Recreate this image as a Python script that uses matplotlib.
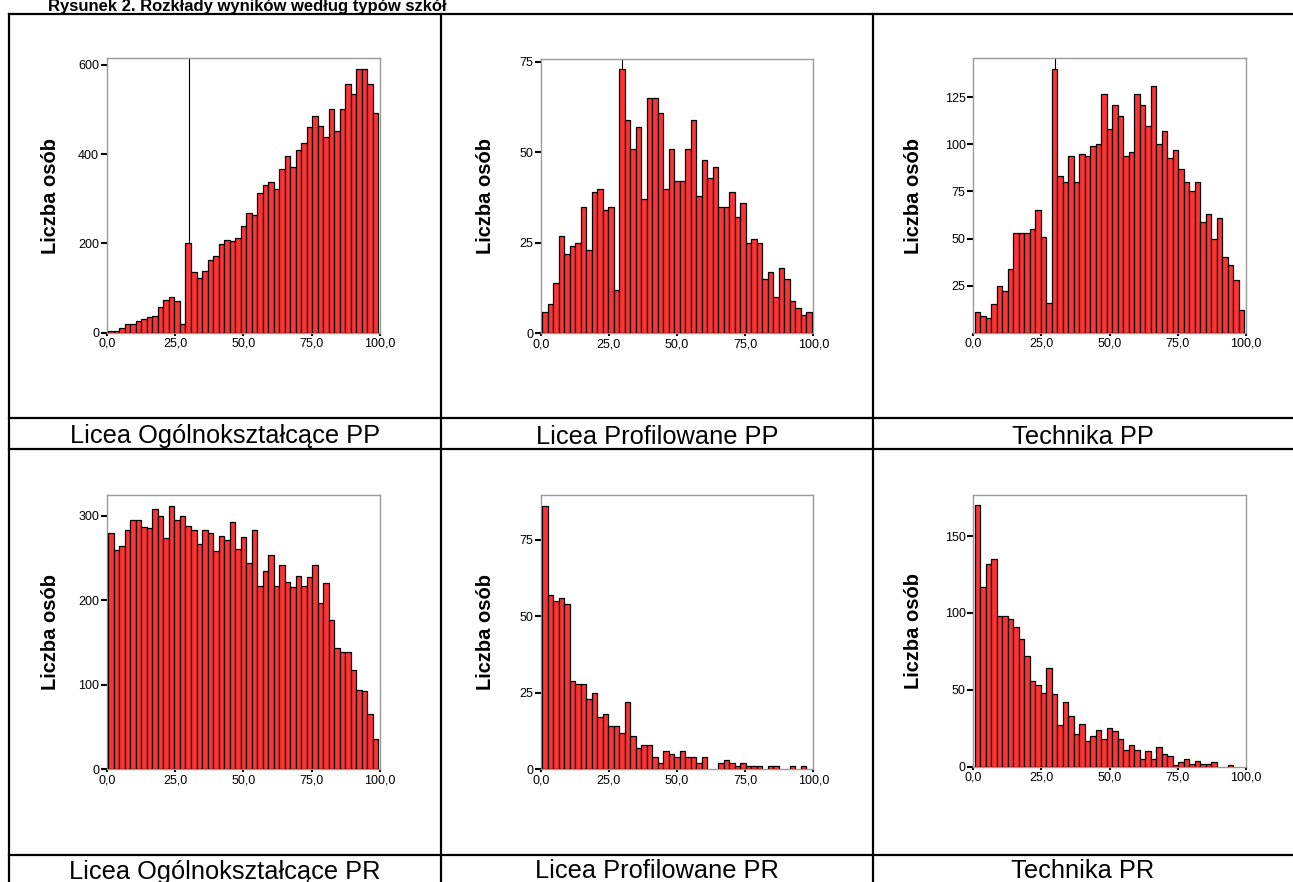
import numpy as np
import matplotlib
matplotlib.use('Agg')
import matplotlib.pyplot as plt
from matplotlib.lines import Line2D

plt.rcParams['font.family'] = ['Liberation Sans', 'DejaVu Sans']

# ---------------- data (counts per score interval) ----------------
lo_pp = [3, 3, 10, 19, 19, 26, 30, 36, 38, 58, 73, 80, 71, 19, 200, 135, 122, 138, 163, 172,
         198, 207, 205, 213, 240, 268, 263, 313, 332, 338, 322, 368, 397, 371, 409, 425, 460,
         486, 464, 438, 501, 451, 501, 557, 536, 591, 591, 557, 493]
lp_pp = [6, 8, 14, 27, 22, 24, 25, 35, 23, 39, 40, 34, 35, 12, 73, 59, 51, 57, 37, 65, 65, 61,
         40, 51, 42, 42, 51, 59, 38, 48, 43, 46, 35, 35, 39, 32, 36, 25, 26, 25, 15, 17, 10, 18,
         15, 9, 7, 5, 6]
te_pp = [11, 9, 8, 15, 25, 22, 34, 53, 53, 53, 55, 65, 51, 16, 140, 83, 80, 94, 80, 95, 94, 99,
         100, 127, 108, 121, 115, 94, 96, 127, 121, 110, 131, 100, 107, 93, 97, 87, 80, 75, 80,
         59, 63, 50, 61, 40, 36, 28, 12]
lo_pr = [280, 259, 264, 283, 295, 295, 287, 285, 308, 300, 273, 312, 295, 300, 288, 283, 266,
         283, 280, 258, 276, 271, 292, 261, 275, 244, 283, 217, 234, 253, 217, 242, 222, 216,
         229, 217, 227, 242, 197, 220, 176, 143, 138, 138, 117, 94, 92, 65, 35]
lp_pr = [86, 57, 55, 56, 54, 29, 28, 28, 23, 25, 17, 18, 14, 14, 12, 22, 11, 7, 8, 8, 4, 2, 6,
         5, 4, 6, 4, 4, 2, 4, 0, 0, 2, 3, 2, 1, 2, 1, 1, 1, 0, 1, 1, 0, 0, 1, 0, 1, 0]
te_pr = [170, 117, 132, 135, 98, 98, 96, 91, 83, 72, 56, 53, 48, 64, 47, 27, 42, 33, 21, 28, 17,
         20, 24, 18, 25, 23, 18, 11, 14, 11, 5, 10, 5, 13, 8, 7, 1, 3, 5, 2, 4, 2, 2, 3, 0, 0,
         1, 0, 0]

series = [lo_pp, lp_pp, te_pp, lo_pr, lp_pr, te_pr]
panel_titles = ['Licea Ogólnokształcące PP', 'Licea Profilowane PP', 'Technika PP',
                'Licea Ogólnokształcące PR', 'Licea Profilowane PR', 'Technika PR']
y_max = [615, 75.7, 145.7, 324.5, 89.7, 176.7]
y_ticks = [[0, 200, 400, 600], [0, 25, 50, 75], [25, 50, 75, 100, 125],
           [0, 100, 200, 300], [0, 25, 50, 75], [0, 50, 100, 150]]
x_ticks = [0, 25, 50, 75, 100]
x_tick_labels = ['0,0', '25,0', '50,0', '75,0', '100,0']
threshold = 30.0
bin_lo = 0.6
bin_w = 2.0163
title = 'Rysunek 2. Rozkłady wyników według typów szkół'
ylab = 'Liczba osób'

# ---------------- layout ----------------
W, H = 1293, 882
fig = plt.figure(figsize=(W / 100, H / 100), dpi=100)


def fx(x):
    return x / W


def fy(y):
    return 1 - y / H


# axes boxes in pixels: left, top, right, bottom
boxes = [(106.7, 58.3, 380.0, 332.7), (540.7, 59.3, 813.3, 333.3), (973.3, 58.3, 1246.0, 332.7),
         (106.7, 495.0, 380.0, 769.0), (540.7, 495.0, 813.3, 769.3), (973.3, 495.0, 1246.0, 766.7)]
ylab_dx = [56, 55, 60, 56, 55, 60]

for i, vals in enumerate(series):
    l, t, r, b = boxes[i]
    ax = fig.add_axes([fx(l), fy(b), (r - l) / W, (b - t) / H])
    vals = np.array(vals, dtype=float)
    centers = bin_lo + bin_w * (np.arange(len(vals)) + 0.5)
    m = vals > 0
    ax.bar(centers[m], vals[m], width=bin_w, color='#ff3333', edgecolor='black',
           linewidth=0.9, zorder=3)
    if i < 3:
        ax.axvline(threshold, color='black', lw=0.8, zorder=2)
    ax.set_xlim(0, 100)
    ax.set_ylim(0, y_max[i])
    ax.set_xticks(x_ticks)
    ax.set_xticklabels(x_tick_labels)
    ax.set_yticks(y_ticks[i])
    for s in ax.spines.values():
        s.set_color('#9a9a9a')
        s.set_linewidth(1.0)
    ax.tick_params(axis='y', direction='out', length=4.5, width=1.5, color='black',
                   labelsize=9, pad=1)
    ax.tick_params(axis='x', direction='out', length=2.2, width=1.5, color='black',
                   labelsize=9, pad=1.5)
    ax.set_ylabel(ylab, fontsize=14.5, fontweight='bold', va='center')
    ax.yaxis.set_label_coords(-ylab_dx[i] / (r - l), 0.5)

# title (partly cut off at the top, as in the source)
fig.text(fx(48), fy(11.5), title, fontsize=12, fontweight='bold', ha='left', va='baseline')

# table grid
lw = 1.6
for y in [13.5, 418, 449, 855]:
    fig.add_artist(Line2D([fx(9), fx(1294)], [fy(y), fy(y)], color='black', lw=lw))
for x in [9, 441, 873]:
    fig.add_artist(Line2D([fx(x), fx(x)], [fy(13.5), fy(883)], color='black', lw=lw))

# cell labels
col_centers = [225, 657, 1083]
row_baselines = [443.5, 878.5]
for i, txt in enumerate(panel_titles):
    fig.text(fx(col_centers[i % 3]), fy(row_baselines[i // 3]), txt, fontsize=18.3,
             ha='center', va='baseline')

fig.savefig('out.png', dpi=100)
